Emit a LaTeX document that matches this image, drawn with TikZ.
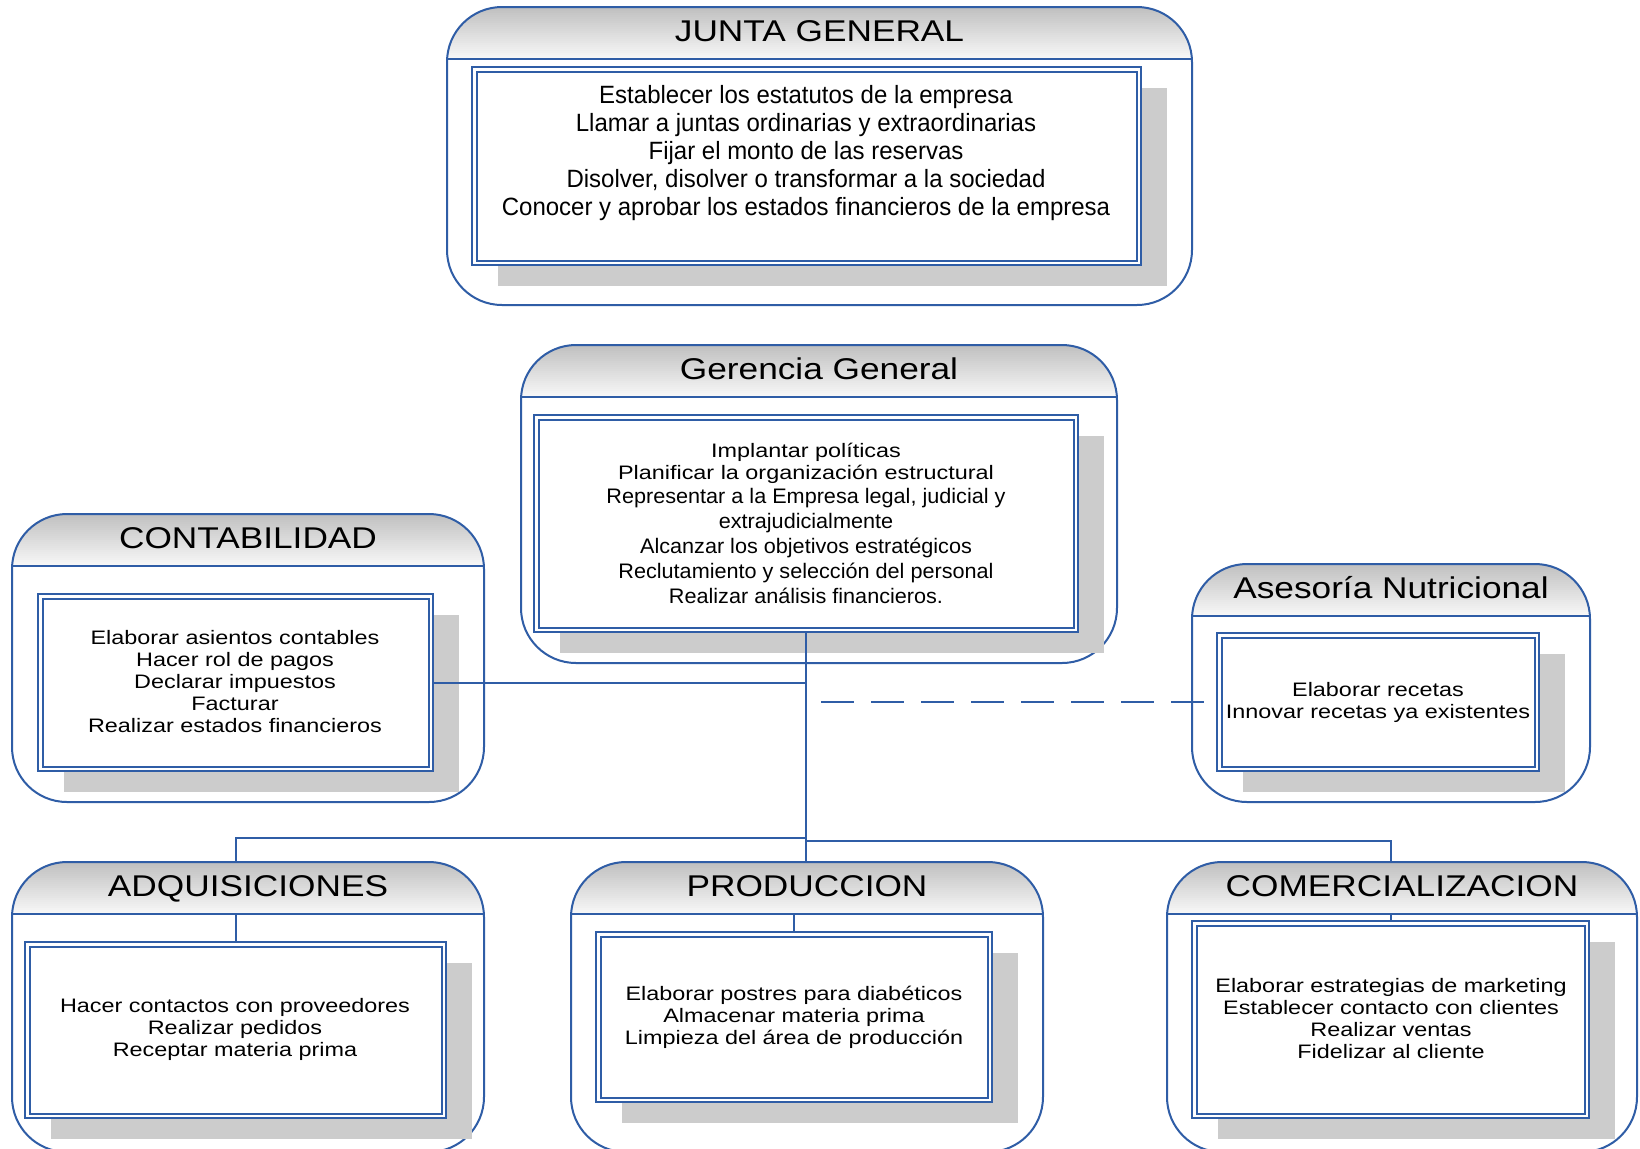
\documentclass[tikz,border=0pt]{standalone}
\usepackage{fontspec}
\setmainfont{Liberation Sans}
\newfontfamily\ttlfont{Liberation Sans}[FakeStretch=1.175]
\newfontfamily\widefont{Liberation Sans}[FakeStretch=1.2]
\newfontfamily\narrfont{Liberation Sans}[FakeStretch=0.96]
\newfontfamily\midfont{Liberation Sans}[FakeStretch=1.03]
\usetikzlibrary{fit,shadows}
\definecolor{orgblue}{RGB}{47,93,166}
\definecolor{hdtop}{RGB}{192,192,192}
\definecolor{hdbot}{RGB}{247,247,247}
\definecolor{shadowgray}{RGB}{204,204,204}
\begin{document}
\begin{tikzpicture}[x=0.5pt,y=-0.5pt,
  outerbox/.style={draw=orgblue, line width=1pt, rounded corners=27.5pt, fill=white, inner sep=0pt,
    path picture={
      \foreach \i in {0,...,25}{
        \pgfmathtruncatemacro\hp{\i*4}
        \fill[sharp corners, hdbot!\hp!hdtop] ([yshift={-\i*1pt}]path picture bounding box.north west) rectangle ([yshift={-(\i+1.3)*1pt}]path picture bounding box.north east);
      }
      \draw[sharp corners, orgblue, line width=1pt] ([yshift=-26pt]path picture bounding box.north west) -- ([yshift=-26pt]path picture bounding box.north east);
    }},
  innerbox/.style={draw=orgblue, line width=1pt, fill=white, inner sep=-0.5pt, outer sep=0.5pt,
    path picture={
      \draw[sharp corners, orgblue, line width=1pt] ([shift={(2.25pt,-2.25pt)}]path picture bounding box.north west) rectangle ([shift={(-2.25pt,2.25pt)}]path picture bounding box.south east);
    },
    drop shadow={shadow xshift=13pt, shadow yshift=-10.5pt, fill=shadowgray, opacity=1, draw=none}},
  ttl/.style={anchor=base, inner sep=0pt, font=\ttlfont\fontsize{15}{18}\selectfont},
  body/.style={align=center, inner sep=0pt, font=\widefont\fontsize{9.75}{11}\selectfont},
  jgbody/.style={align=center, inner sep=0pt, font=\narrfont\fontsize{12.5}{14}\selectfont},
  ggbody/.style={align=center, inner sep=0pt, font=\midfont\fontsize{10.5}{12.5}\selectfont},
  conn/.style={draw=orgblue, line width=1pt},
  dashconn/.style={conn, dash pattern=on 16.5pt off 8.5pt}
]
\useasboundingbox (0,0) rectangle (1640,1148);
\clip (0,0) rectangle (1640,1148);
\fill[white] (0,0) rectangle (1640,1148);

% JUNTA GENERAL
\node[outerbox, fit={(447,7) (1192,305)}] (jg) {};
\node[ttl] (jg-t) at ([yshift=-17.75pt]jg.north) {JUNTA GENERAL};
\node[innerbox, fit={(471,66) (1142,266)}] (jg-in) {};
\node[jgbody] (jg-txt) at (806,153.5) {Establecer los estatutos de la empresa\\
Llamar a juntas ordinarias y extraordinarias\\
Fijar el monto de las reservas\\
Disolver, disolver o transformar a la sociedad\\
Conocer y aprobar los estados financieros de la empresa};

% Gerencia General
\node[outerbox, fit={(521,345) (1117,663)}] (gg) {};
\node[ttl] (gg-t) at ([yshift=-17.75pt]gg.north) {Gerencia General};
\node[innerbox, fit={(533,414) (1079,633)}] (gg-in) {};
\node[ggbody] (gg-txt) at (806,523) {{\widefont\fontsize{9.75}{11}\selectfont Implantar políticas}\\[-1.5pt]
{\widefont\fontsize{9.75}{11}\selectfont Planificar la organización estructural}\\[-0.5pt]
Representar a la Empresa legal, judicial y\\
extrajudicialmente\\
Alcanzar los objetivos estratégicos\\
Reclutamiento y selección del personal\\
Realizar análisis financieros.};

% CONTABILIDAD
\node[outerbox, fit={(12,514) (484,802)}] (co) {};
\node[ttl] (co-t) at ([yshift=-17.75pt]co.north) {CONTABILIDAD};
\node[innerbox, fit={(37,593) (434,772)}] (co-in) {};
\node[body] (co-txt) at (235,682) {Elaborar asientos contables\\
Hacer rol de pagos\\
Declarar impuestos\\
Facturar\\
Realizar estados financieros};

% Asesoria Nutricional
\node[outerbox, fit={(1192,564) (1590,802)}] (as) {};
\node[ttl] (as-t) at ([yshift=-17.75pt]as.north) {Asesoría Nutricional};
\node[innerbox, fit={(1216,632) (1540,772)}] (as-in) {};
\node[body] (as-txt) at (1378,702) {Elaborar recetas\\
Innovar recetas ya existentes};

% ADQUISICIONES
\node[outerbox, fit={(12,862) (484,1152)}] (ad) {};
\node[ttl] (ad-t) at ([yshift=-17.75pt]ad.north) {ADQUISICIONES};
\node[innerbox, fit={(24,941) (447,1119)}] (ad-in) {};
\node[body] (ad-txt) at (235,1029) {Hacer contactos con proveedores\\
Realizar pedidos\\
Receptar materia prima};

% PRODUCCION
\node[outerbox, fit={(571,862) (1043,1152)}] (pr) {};
\node[ttl] (pr-t) at ([yshift=-17.75pt]pr.north) {PRODUCCION};
\node[innerbox, fit={(595,931) (993,1103)}] (pr-in) {};
\node[body] (pr-txt) at (794,1017) {Elaborar postres para diabéticos\\
Almacenar materia prima\\
Limpieza del área de producción};

% COMERCIALIZACION
\node[outerbox, fit={(1167,862) (1637,1152)}] (cm) {};
\node[ttl] (cm-t) at ([yshift=-17.75pt]cm.north) {COMERCIALIZACION};
\node[innerbox, fit={(1191,920) (1590,1119)}] (cm-in) {};
\node[body] (cm-txt) at (1391,1019) {Elaborar estrategias de marketing\\
Establecer contacto con clientes\\
Realizar ventas\\
Fidelizar al cliente};

% header line coordinates
\coordinate (ad-hl) at ([yshift=-26pt]ad.north);
\coordinate (pr-hl) at ([yshift=-26pt]pr.north);
\coordinate (cm-hl) at ([yshift=-26pt]cm.north);
\coordinate (busL) at (806,838);
\coordinate (busR) at (806,841);
\coordinate (dstart) at (821,702);

% connectors
\draw[conn] (gg-in.south) -- (gg-in.south |- pr.north);
\draw[conn] (busL) -| (ad-in.north |- ad.north);
\draw[conn] (busR) -| (cm-in.north |- cm.north);
\draw[conn] (co-in.east) -- (co-in.east -| gg-in.south);
\draw[dashconn] (dstart) -- ([xshift=-5pt]as-in.west);
\draw[conn] (ad-hl -| ad-in.north) -- (ad-in.north);
\draw[conn] (pr-hl -| pr-in.north) -- (pr-in.north);
\draw[conn] (cm-hl -| cm-in.north) -- (cm-in.north);
\end{tikzpicture}
\end{document}
